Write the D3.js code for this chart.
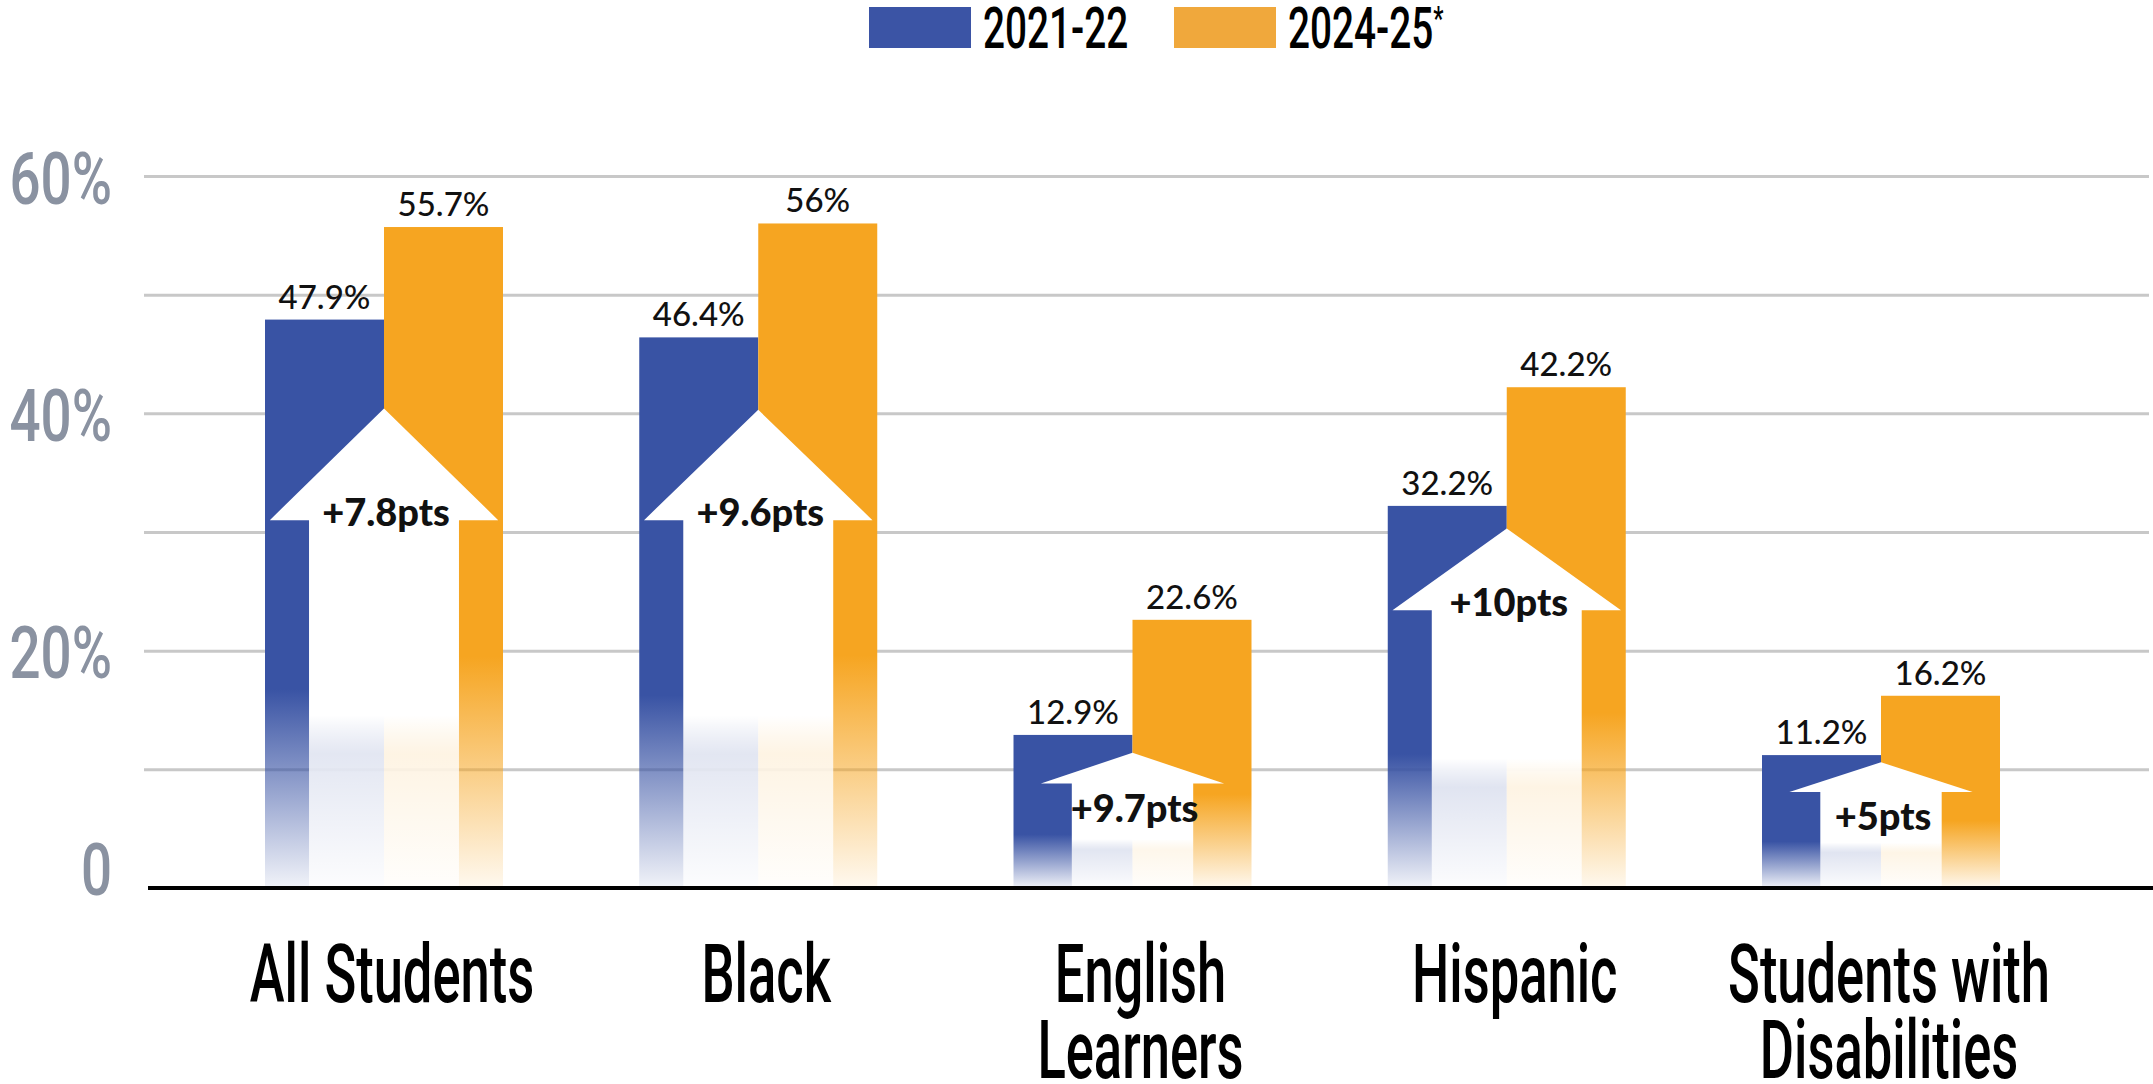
<!DOCTYPE html>
<html>
<head>
<meta charset="utf-8">
<script src="https://cdn.jsdelivr.net/npm/d3@7"></script>
<style>
  body { margin: 0; background: #fff; }
  svg { display: block; }
</style>
</head>
<body>
<div id="chart"></div>
<script>
// chart data
const categories = ["All Students", "Black", "English Learners", "Hispanic", "Students with Disabilities"];
const labelLines = [["All Students"], ["Black"], ["English", "Learners"], ["Hispanic"], ["Students with", "Disabilities"]];
const series = ["2021-22", "2024-25*"];
const values2122 = [47.9, 46.4, 12.9, 32.2, 11.2];
const values2425 = [55.7, 56, 22.6, 42.2, 16.2];
const gainLabels = ["+7.8pts", "+9.6pts", "+9.7pts", "+10pts", "+5pts"];
// arrow tip / arrow head base, in percent
const arrowTip = [40.4, 40.3, 11.4, 30.3, 10.6];
const arrowBase = [31.0, 31.0, 8.8, 23.4, 8.1];
const yTickValues = [0, 20, 40, 60];
const gridValues = [10, 20, 30, 40, 50, 60];

const colours = ["#3953a4", "#f6a521"];
const legendColours = ["#3b54a5", "#f0a83c"];

const W = 2153, H = 1084;
const svg = d3.select("#chart").append("svg").attr("width", W).attr("height", H);

const y = d3.scaleLinear().domain([0, 60]).range([888, 176]);
const x = d3.scalePoint().domain(categories).range([384, 1881]);
const x1 = d3.scaleBand().domain(series).range([-119, 119]).padding(0);
const barW = x1.bandwidth();

const defs = svg.append("defs");
colours.forEach((c, i) => {
  const g = defs.append("linearGradient").attr("id", "fade" + i)
    .attr("x1", 0).attr("y1", 0).attr("x2", 0).attr("y2", 1);
  g.append("stop").attr("offset", 0).attr("stop-color", c).attr("stop-opacity", 1);
  g.append("stop").attr("offset", 0.65).attr("stop-color", c).attr("stop-opacity", 1);
  g.append("stop").attr("offset", 0.84).attr("stop-color", c).attr("stop-opacity", 0.5);
  g.append("stop").attr("offset", 1).attr("stop-color", c).attr("stop-opacity", 0.07);
});
const ag = defs.append("linearGradient").attr("id", "arrowFade")
  .attr("x1", 0).attr("y1", 0).attr("x2", 0).attr("y2", 1);
ag.append("stop").attr("offset", 0).attr("stop-color", "#fff").attr("stop-opacity", 1);
ag.append("stop").attr("offset", 0.64).attr("stop-color", "#fff").attr("stop-opacity", 1);
ag.append("stop").attr("offset", 0.72).attr("stop-color", "#fff").attr("stop-opacity", 0.8);
ag.append("stop").attr("offset", 1).attr("stop-color", "#fff").attr("stop-opacity", 0.8);

// gridlines
svg.append("g").attr("transform", "translate(144,0)")
  .call(d3.axisLeft(y).tickValues(gridValues).tickSize(-(2149 - 144)).tickFormat(""))
  .call(g => g.select(".domain").remove())
  .call(g => g.selectAll("line").attr("stroke", "#c8c8c8").attr("stroke-width", 3));

// y tick labels
svg.append("g").attr("transform", "translate(144,0)")
  .call(d3.axisLeft(y).tickValues(yTickValues).tickSize(0).tickFormat(d => d === 0 ? "0" : d + "%"))
  .call(g => g.select(".domain").remove())
  .call(g => g.selectAll("text")
    .attr("x", 0).attr("dy", null)
    .attr("transform", d => `translate(-32,${d === 0 ? 6 : 27}) scale(0.75,1)`)
    .attr("fill", "#8a92a1")
    .style("font-family", "Roboto, 'Open Sans', sans-serif")
    .style("font-weight", 500)
    .style("font-size", "73px"));

const rows = categories.map((c, i) => ({
  cat: c, i,
  vals: [values2122[i], values2425[i]],
  tip: arrowTip[i], base: arrowBase[i], gain: gainLabels[i], lines: labelLines[i]
}));

const groups = svg.append("g").selectAll("g").data(rows).join("g")
  .attr("transform", d => `translate(${x(d.cat)},0)`);

// bars
groups.selectAll("rect").data(d => d.vals.map((v, j) => ({ s: series[j], v, j }))).join("rect")
  .attr("x", d => x1(d.s))
  .attr("width", barW)
  .attr("y", d => y(d.v))
  .attr("height", d => y(0) - y(d.v))
  .attr("fill", d => `url(#fade${d.j})`);

// white "gain" arrows
groups.append("path")
  .attr("fill", "url(#arrowFade)")
  .attr("d", d => {
    const t = y(d.tip), b = y(d.base), z = y(0);
    const small = (b - t) < 50;
    const hh = barW * (small ? 0.77 : 0.96);
    const sh = barW * (small ? 0.51 : 0.63);
    return `M0,${t} L${hh},${b} L${sh},${b} L${sh},${z} L${-sh},${z} L${-sh},${b} L${-hh},${b} Z`;
  });

groups.append("text")
  .attr("text-anchor", "middle")
  .attr("x", 2)
  .attr("y", d => y(d.base) + ((y(d.base) - y(d.tip)) < 50 ? 38 : 6))
  .style("font-family", "Lato, 'Open Sans', sans-serif")
  .style("font-weight", 900)
  .style("font-size", "38px")
  .attr("fill", "#111")
  .text(d => d.gain);

// value labels
groups.selectAll("text.val").data(d => d.vals.map((v, j) => ({ s: series[j], v }))).join("text")
  .attr("class", "val")
  .attr("text-anchor", "middle")
  .attr("x", d => x1(d.s) + barW / 2)
  .attr("y", d => y(d.v) - 11)
  .style("font-family", "Lato, 'Open Sans', sans-serif")
  .style("font-weight", 500)
  .style("font-size", "33px")
  .attr("fill", "#111")
  .text(d => d.v + "%");

// category labels
groups.each(function (d) {
  const g = d3.select(this);
  d.lines.forEach((ln, k) => {
    g.append("text")
      .attr("text-anchor", "middle")
      .attr("transform", `translate(8,${1002 + k * 76}) scale(0.64,1)`)
      .style("font-family", "Roboto, sans-serif")
      .style("font-weight", 500)
      .style("font-size", "82px")
      .attr("fill", "#000")
      .text(ln);
  });
});

// baseline
svg.append("line").attr("x1", 148).attr("x2", W).attr("y1", y(0)).attr("y2", y(0))
  .attr("stroke", "#000").attr("stroke-width", 4);

// legend
const legendX = [869, 1174];
const legend = svg.append("g").selectAll("g").data(series).join("g")
  .attr("transform", (d, i) => `translate(${legendX[i]},7)`);
legend.append("rect").attr("width", 102).attr("height", 41).attr("fill", (d, i) => legendColours[i]);
legend.append("text")
  .attr("transform", "translate(114,41) scale(0.68,1)")
  .style("font-family", "Roboto, sans-serif")
  .style("font-weight", 500)
  .style("font-size", "57px")
  .attr("fill", "#000")
  .each(function (d) {
    const t = d3.select(this);
    if (d.endsWith("*")) {
      t.append("tspan").text(d.slice(0, -1));
      t.append("tspan").attr("dy", -18).style("font-size", "34px").text("*");
    } else {
      t.text(d);
    }
  });
</script>
</body>
</html>
